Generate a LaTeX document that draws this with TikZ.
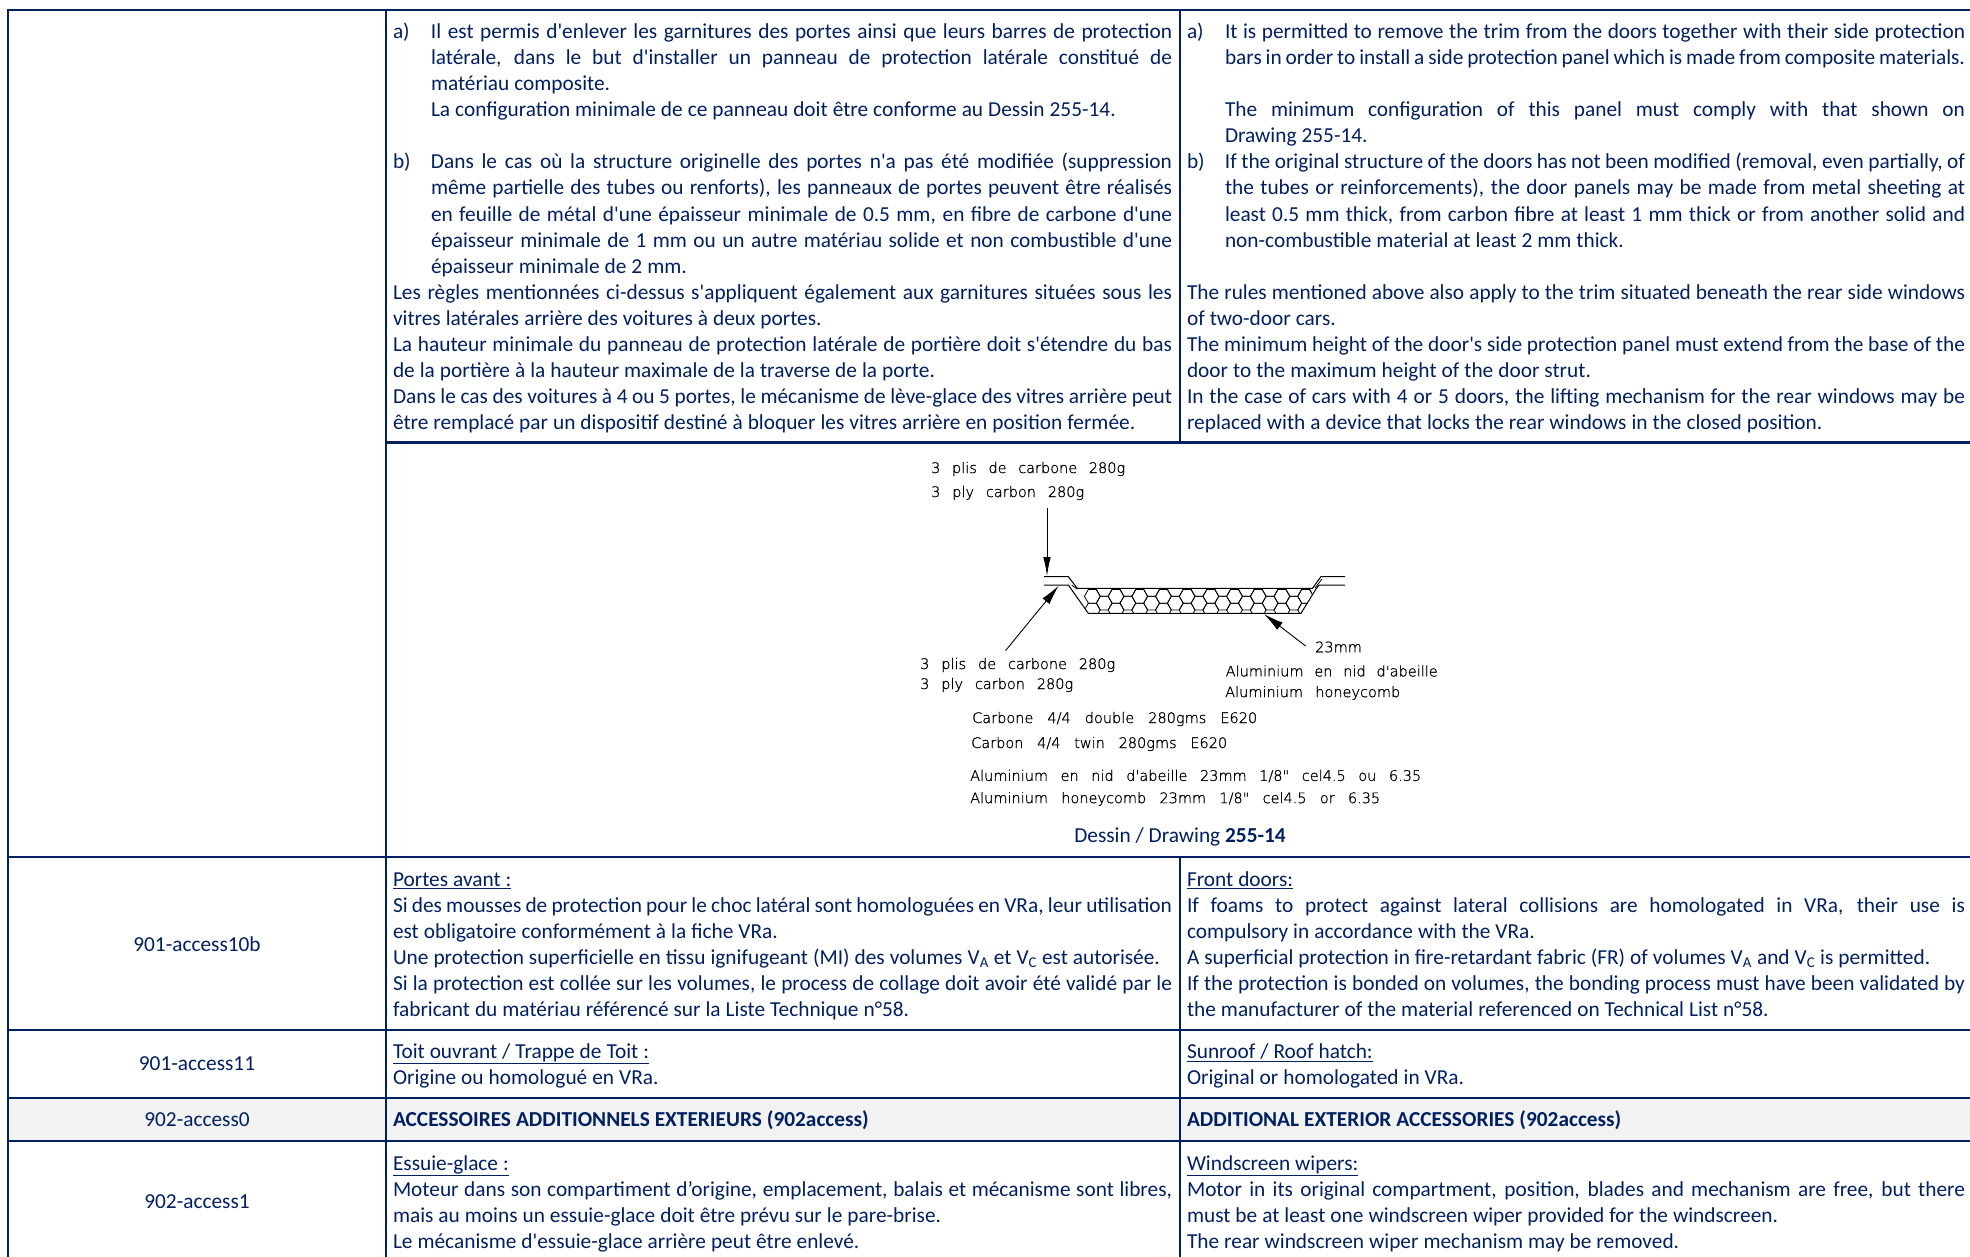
\documentclass[tikz,border=0pt]{standalone}
\usepackage{fontspec}
\usetikzlibrary{arrows.meta}
\newfontfamily\bodyf{Carlito}
\newfontfamily\cadf{DejaVu Sans ExtraLight}[FakeBold=1]
\definecolor{navy}{HTML}{002060}
\definecolor{rowgrey}{HTML}{F2F2F2}
\newcommand\bodyset{\bodyf\fontsize{21.33pt}{26.07pt}\selectfont}
\newcommand\bodysp{\spaceskip=5pt plus 12pt minus 3.5pt
  \xspaceskip=\spaceskip
  \leftskip=0pt \rightskip=0pt \parfillskip=0pt plus 1fil
  \tolerance=10000 \hyphenpenalty=10000 \exhyphenpenalty=10000 \hbadness=10000 \hfuzz=20pt}
\newcommand\brk{\linebreak}
\newcommand\litem[1]{\par\bodysp\noindent\hangindent=38pt\hangafter=1 \makebox[38pt][l]{#1}\ignorespaces}
\newcommand\lcont{\par\bodysp\noindent\hangindent=38pt\hangafter=0 \ignorespaces}
\newcommand\lplain{\par\bodysp\noindent\ignorespaces}
\newcommand\lblank{\par\noindent\strut\par}
\newcommand\cadt[2]{\makebox[#1pt][s]{#2}}
\newcommand\hexat[2]{(#1+7.9,#2)--(#1+3.95,#2+6.85)--(#1-3.95,#2+6.85)--(#1-7.9,#2)--(#1-3.95,#2-6.85)--(#1+3.95,#2-6.85)--cycle}
\tikzset{
  grid/.style={navy,line width=2.4pt},
  gridthin/.style={navy,line width=1.5pt},
  cellL/.style={anchor=north west,inner sep=0pt,outer sep=0pt,text width=779pt,text=navy,font=\bodyset},
  cellR/.style={anchor=north west,inner sep=0pt,outer sep=0pt,text width=778pt,text=navy,font=\bodyset},
  idlabel/.style={anchor=center,inner sep=0pt,text=navy,font=\bodyset},
  cadlabel/.style={anchor=west,inner sep=0pt,text=black,font=\cadf\fontsize{14.5pt}{17pt}\selectfont},
  cadline/.style={black,line width=1pt},
  cellwall/.style={black,line width=.8pt},
  cadarrow/.style={black,line width=.9pt,-{Latex[length=19pt,width=7.5pt]}},
  cadarrowb/.style={black,line width=.9pt,-{Latex[length=20pt,width=9pt]}}
}
\begin{document}
\begin{tikzpicture}[x=1pt,y=-1pt]
\useasboundingbox (0,0) rectangle (1970,1257);
\fill[white] (0,0) rectangle (1970,1257);
% grey row
\fill[rowgrey] (8,1098) rectangle (1970,1141);
% grid
\draw[grid] (6.8,10) -- (1970,10);
\draw[grid] (386,442.5) -- (1970,442.5);
\draw[grid] (8,857) -- (1970,857);
\draw[grid] (8,1030) -- (1970,1030);
\draw[gridthin] (8,1098) -- (1970,1098);
\draw[grid] (8,1141) -- (1970,1141);
\draw[grid] (8,10) -- (8,1257);
\draw[grid] (386,10) -- (386,1257);
\draw[grid] (1180,10) -- (1180,442.5);
\draw[grid] (1180,857) -- (1180,1257);

% top cells
\node[cellL] (topfr) at (393,12.5) {%
\litem{a)}Il est permis d'enlever les garnitures des portes ainsi que leurs barres de protection\brk
latérale, dans le but d'installer un panneau de protection latérale constitué de\brk
matériau composite.
\lcont La configuration minimale de ce panneau doit être conforme au Dessin 255-14.
\lblank
\litem{b)}Dans le cas où la structure originelle des portes n'a pas été modifiée (suppression\brk
même partielle des tubes ou renforts), les panneaux de portes peuvent être réalisés\brk
en feuille de métal d'une épaisseur minimale de 0.5 mm, en fibre de carbone d'une\brk
épaisseur minimale de 1 mm ou un autre matériau solide et non combustible d'une\brk
épaisseur minimale de 2 mm.
\lplain Les règles mentionnées ci-dessus s'appliquent également aux garnitures situées sous les\brk
vitres latérales arrière des voitures à deux portes.
\lplain La hauteur minimale du panneau de protection latérale de portière doit s'étendre du bas\brk
de la portière à la hauteur maximale de la traverse de la porte.
\lplain Dans le cas des voitures à 4 ou 5 portes, le mécanisme de lève-glace des vitres arrière peut\brk
être remplacé par un dispositif destiné à bloquer les vitres arrière en position fermée.\par};
\node[cellR] (topen) at (1187,12.5) {%
\litem{a)}It is permitted to remove the trim from the doors together with their side protection\brk
bars in order to install a side protection panel which is made from composite materials.
\lblank
\lcont The minimum configuration of this panel must comply with that shown on\brk
Drawing 255-14.
\litem{b)}If the original structure of the doors has not been modified (removal, even partially, of\brk
the tubes or reinforcements), the door panels may be made from metal sheeting at\brk
least 0.5 mm thick, from carbon fibre at least 1 mm thick or from another solid and\brk
non-combustible material at least 2 mm thick.
\lblank
\lplain The rules mentioned above also apply to the trim situated beneath the rear side windows\brk
of two-door cars.
\lplain The minimum height of the door's side protection panel must extend from the base of the\brk
door to the maximum height of the door strut.
\lplain In the case of cars with 4 or 5 doors, the lifting mechanism for the rear windows may be\brk
replaced with a device that locks the rear windows in the closed position.\par};

% drawing
\begin{scope}
\clip (1071,589) -- (1315,589) -- (1301,613.3) -- (1088.3,613.3) -- cycle;
\foreach \k in {0,...,9}{
  \pgfmathsetmacro\ca{1092.3+23.7*\k}
  \pgfmathsetmacro\cb{1104.2+23.7*\k}
  \draw[cellwall] \hexat{\ca}{596.3};
  \draw[cellwall] \hexat{\ca}{610};
  \draw[cellwall] \hexat{\cb}{603.15};
  \draw[cellwall] \hexat{\cb}{589.45};
}
\end{scope}
\draw[cadline] (1044,576.7) -- (1068.3,576.7) -- (1077.3,588.3) -- (1312.5,588.3) -- (1321,576.5) -- (1345,576.5);
\draw[cadline] (1044,585) -- (1068.3,585) -- (1088.3,613.3) -- (1301,613.3) -- (1316,589) -- (1319,585) -- (1345,585);
\draw[cellwall] (1071.7,585) -- (1077,589);
\draw[cellwall] (1315,588) -- (1322,579);

\coordinate (a1s) at (1047,508);
\coordinate (a1e) at (1047,576);
\coordinate (a2s) at (1005.5,650.7);
\coordinate (a2e) at (1058.7,585.7);
\coordinate (a3s) at (1305.6,646);
\coordinate (a3e) at (1264,614);
\draw[cadarrow] (a1s) -- (a1e);
\draw[cadarrowb] (a2s) -- (a2e);
\draw[cadarrowb] (a3s) -- (a3e);

\node[cadlabel] (t1) at (931,469) {\cadt{194}{3 plis de carbone 280g}};
\node[cadlabel] (t2) at (931,493) {\cadt{153}{3 ply carbon 280g}};
\node[cadlabel] (t3) at (920,665) {\cadt{195}{3 plis de carbone 280g}};
\node[cadlabel] (t4) at (920,685) {\cadt{153}{3 ply carbon 280g}};
\node[cadlabel] (t5) at (1315,647) {\cadt{48}{23mm}};
\node[cadlabel] (t6) at (1225.5,671) {\cadt{212}{Aluminium en nid d'abeille}};
\node[cadlabel] (t7) at (1225,693) {\cadt{175}{Aluminium honeycomb}};
\node[cadlabel] (t8) at (972,719) {\cadt{285}{Carbone 4/4 double 280gms E620}};
\node[cadlabel] (t9) at (971,744) {\cadt{256}{Carbon 4/4 twin 280gms E620}};
\node[cadlabel] (t10) at (970,776) {\cadt{451}{Aluminium en nid d'abeille 23mm 1/8" cel4.5 ou 6.35}};
\node[cadlabel] (t11) at (970,799) {\cadt{410}{Aluminium honeycomb 23mm 1/8" cel4.5 or 6.35}};
\node[idlabel] (caption) at (1180,837) {Dessin / Drawing \textbf{255-14}};

% row 901-access10b
\node[idlabel] (id10b) at (197,944) {901-access10b};
\node[cellL] (fr10b) at (393,860.5) {%
\lplain \underline{Portes avant :}
\lplain Si des mousses de protection pour le choc latéral sont homologuées en VRa, leur utilisation\brk
est obligatoire conformément à la fiche VRa.
\lplain Une protection superficielle en tissu ignifugeant (MI) des volumes V\textsubscript{A} et V\textsubscript{C} est autorisée.
\lplain Si la protection est collée sur les volumes, le process de collage doit avoir été validé par le\brk
fabricant du matériau référencé sur la Liste Technique n°58.\par};
\node[cellR] (en10b) at (1187,860.5) {%
\lplain \underline{Front doors:}
\lplain If foams to protect against lateral collisions are homologated in VRa, their use is\brk
compulsory in accordance with the VRa.
\lplain A superficial protection in fire-retardant fabric (FR) of volumes V\textsubscript{A} and V\textsubscript{C} is permitted.
\lplain If the protection is bonded on volumes, the bonding process must have been validated by\brk
the manufacturer of the material referenced on Technical List n°58.\par};

% row 901-access11
\node[idlabel] (id11) at (197,1063.5) {901-access11};
\node[cellL] (fr11) at (393,1032.5) {%
\lplain \underline{Toit ouvrant / Trappe de Toit :}
\lplain Origine ou homologué en VRa.\par};
\node[cellR] (en11) at (1187,1032.5) {%
\lplain \underline{Sunroof / Roof hatch:}
\lplain Original or homologated in VRa.\par};

% row 902-access0
\node[idlabel] (id0) at (197,1120) {902-access0};
\node[cellL] (fr0) at (393,1100.8) {\lplain\textbf{ACCESSOIRES ADDITIONNELS EXTERIEURS (902access)}\par};
\node[cellR] (en0) at (1187,1100.8) {\lplain\textbf{ADDITIONAL EXTERIOR ACCESSORIES (902access)}\par};

% row 902-access1
\node[idlabel] (id1) at (197,1202) {902-access1};
\node[cellL] (fr1) at (393,1144.5) {%
\lplain \underline{Essuie-glace :}
\lplain Moteur dans son compartiment d’origine, emplacement, balais et mécanisme sont libres,\brk
mais au moins un essuie-glace doit être prévu sur le pare-brise.
\lplain Le mécanisme d'essuie-glace arrière peut être enlevé.\par};
\node[cellR] (en1) at (1187,1144.5) {%
\lplain \underline{Windscreen wipers:}
\lplain Motor in its original compartment, position, blades and mechanism are free, but there\brk
must be at least one windscreen wiper provided for the windscreen.
\lplain The rear windscreen wiper mechanism may be removed.\par};
\end{tikzpicture}
\end{document}
